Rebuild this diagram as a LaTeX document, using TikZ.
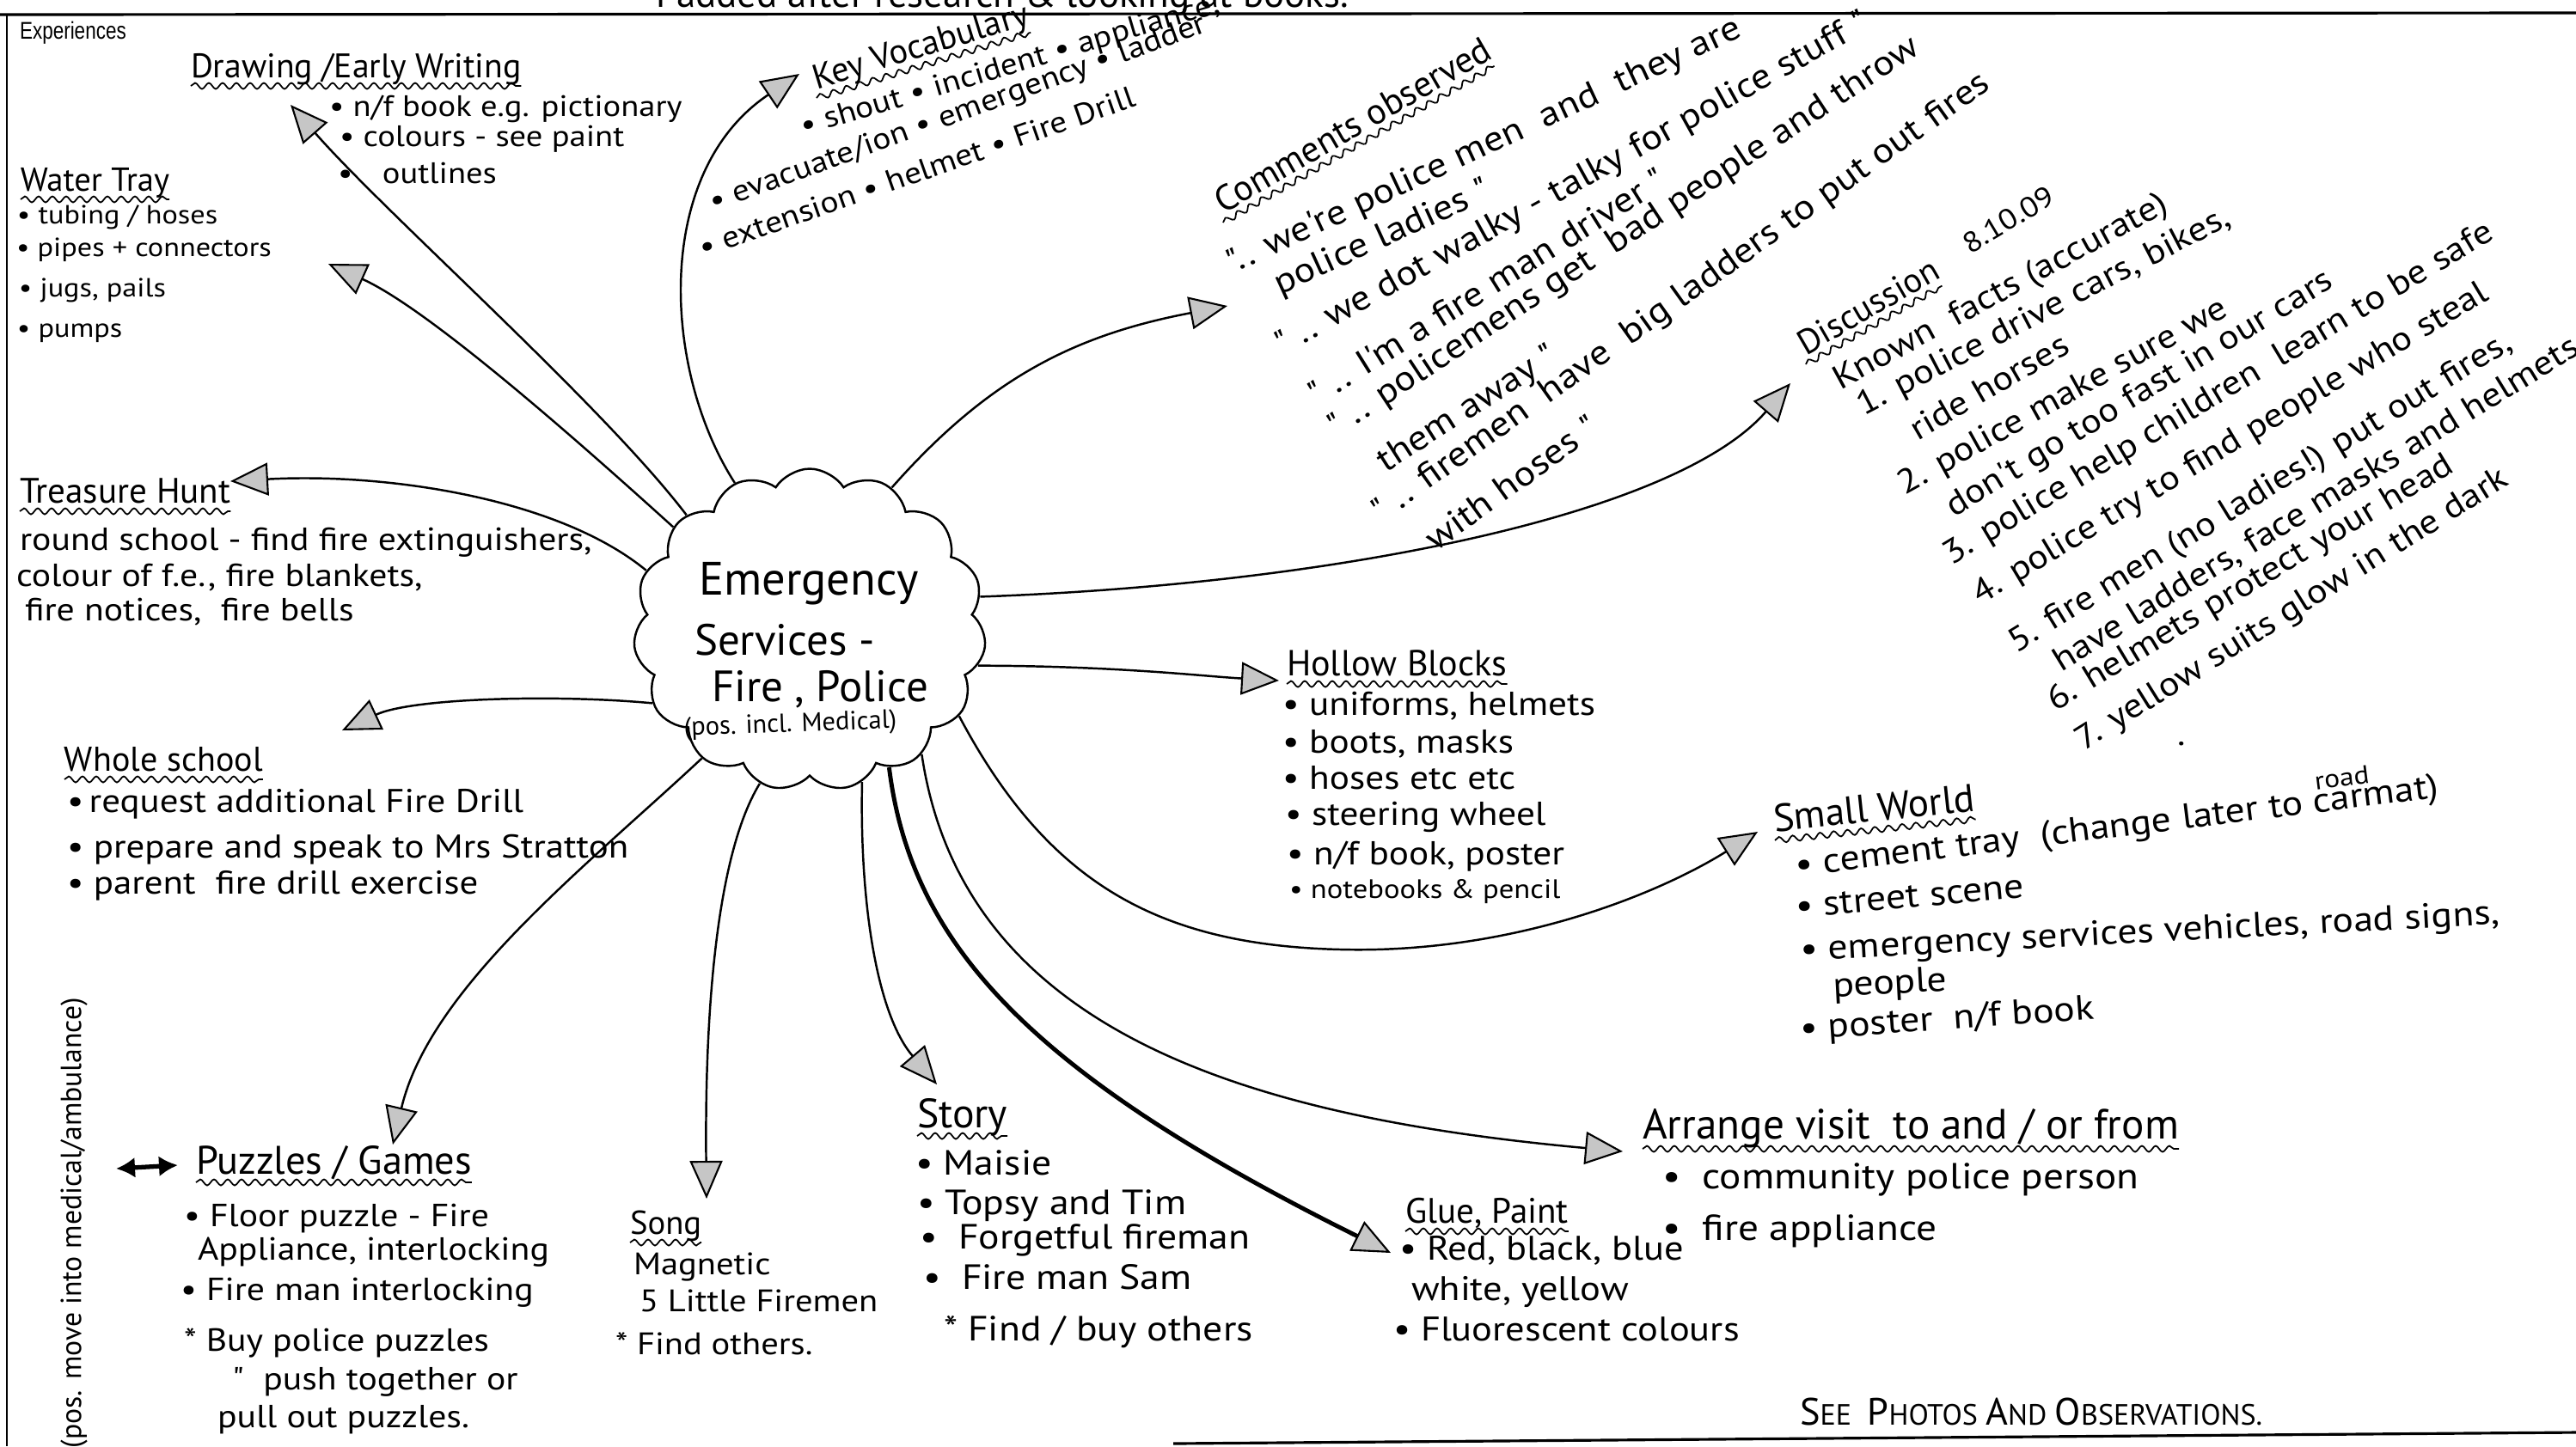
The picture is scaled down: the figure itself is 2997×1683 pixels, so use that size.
\documentclass[tikz,border=0pt]{standalone}
\usepackage{fontspec}
\setmainfont{PT Sans}
\newfontfamily\wide{PT Sans}[FakeStretch=1.12]
\newfontfamily\expfont{Liberation Sans}[FakeStretch=0.8]
\usetikzlibrary{arrows.meta,shapes.symbols,decorations.pathmorphing}
\newcommand\fs[1]{\fontsize{#1}{#1}\selectfont}
\newcommand\SCw[2]{{\fs{12.6}#1}{\fs{9.7}#2}}
\begin{document}
\begin{tikzpicture}[x=0.1mm,y=-0.1mm,
  t/.style={anchor=base west, inner sep=0pt, outer sep=0pt},
  wav/.style={decorate, decoration={snake, amplitude=0.35mm, segment length=1.6mm}, line width=0.5pt},
  conn/.style={line width=0.7pt, -{Triangle[length=4.4mm,width=3.8mm,fill=gray!45,line width=0.6pt]}},
  ul/.style={wav},
]
\useasboundingbox (0,0) rectangle (2997,1683);
\fill[white] (0,0) rectangle (2997,1683);
% page frame
\draw[line width=0.9pt] (0,17) -- (2997,15);
\draw[line width=0.5pt] (8,17) -- (8,1683);
\draw[line width=0.9pt] (1365,1680) -- (2997,1667);
\node[t, font=\fs{12.8}] (top) at (762,8) {I added after research \& looking at books.};
\node[t, font=\expfont\fontsize{8}{9}\selectfont] (exp) at (23,45) {Experiences};

% centre cloud
\node[cloud, draw, line width=0.7pt, cloud puffs=15, cloud puff arc=115, cloud ignores aspect,
      minimum width=4.1cm, minimum height=3.75cm, inner sep=0pt] (c) at (942,733) {};
\node[t, font=\fs{15.5}] (e1) at (813,692) {Emergency};
\node[t, font=\fs{14.5}] (e2) at (808,762) {Services -};
\node[t, font=\fs{14.5}] (e3) at (828,816) {Fire , Police};
\node[t, font=\fs{8.7}, rotate=2] (e4) at (796,856) {(pos. incl. Medical)};

% Drawing / Early Writing
\node[t, font=\fs{11.3}] (dwH) at (222,90) {Drawing /Early Writing};
\draw[ul] ([yshift=-1mm]dwH.base west) -- ([yshift=-1mm]dwH.base east);
\begin{scope}[font=\wide\fs{9.8}]
\node[t] (dw1) at (383,135) {\textbullet\ n/f book e.g. pictionary};
\node[t] (dw2) at (395,170) {\textbullet\ colours - see paint};
\node[t] (dw3) at (393,213) {\textbullet\quad outlines};
\end{scope}

% Water Tray
\node[t, font=\fs{11}] (wtH) at (24,222) {Water Tray};
\draw[ul] ([yshift=-1mm]wtH.base west) -- ([yshift=-1mm]wtH.base east);
\begin{scope}[font=\wide\fs{8.7}]
\node[t] (wt1) at (20,260) {\textbullet\ tubing / hoses};
\node[t] (wt2) at (19,298) {\textbullet\ pipes + connectors};
\node[t] (wt3) at (22,345) {\textbullet\ jugs, pails};
\node[t] (wt4) at (20,392) {\textbullet\ pumps};
\end{scope}

% Key Vocabulary
\node[t, font=\fs{11.5}, rotate=17] (kvH) at (950,104) {Key Vocabulary};
\draw[ul] ([yshift=-1mm]kvH.base west) -- ([yshift=-1mm]kvH.base east);
\begin{scope}[font=\wide\fs{10}]
\node[t, rotate=16.5] (kv1) at (935,158) {\textbullet\ shout \textbullet\ incident \textbullet\ appliance,};
\node[t, rotate=20] (kv2) at (830,246) {\textbullet\ evacuate/ion \textbullet\ emergency \textbullet\ ladder};
\node[t, rotate=19.3] (kv3) at (818,300) {\textbullet\ extension \textbullet\ helmet \textbullet\ Fire Drill};
\end{scope}

% Comments observed
\node[t, font=\fs{12}, rotate=30] (coH) at (1423,249) {Comments observed};
\draw[ul] ([yshift=-1mm]coH.base west) -- ([yshift=-1mm]coH.base east);
\begin{scope}[font=\wide\fs{11.6}]
\node[t, rotate=25] (co1) at (1434,319) {".. we're police men \ and \ they are};
\node[t, rotate=24.5] (co2) at (1489,343) {police ladies "};
\node[t, rotate=29] (co3) at (1492,414) {" .. we dot walky - talky for police stuff "};
\node[t, rotate=32] (co4) at (1532,473) {" .. I'm a fire man driver "};
\node[t, rotate=33.4] (co5) at (1555,510) {" .. policemens get \ bad people and throw};
\node[t, rotate=32.5] (co6) at (1612,550) {them away "};
\node[t, rotate=35.5] (co7) at (1607,609) {" .. firemen \ have \ big ladders to put out fires};
\node[t, rotate=35.7] (co8) at (1670,642) {with hoses "};
\end{scope}

% Discussion
\node[t, font=\fs{11.5}, rotate=30] (diH) at (2101,414) {Discussion};
\draw[ul] ([yshift=-1mm]diH.base west) -- ([yshift=-1mm]diH.base east);
\node[t, font=\wide\fs{9.5}, rotate=31] (diD) at (2292,296) {8.10.09};
\begin{scope}[font=\wide\fs{11.2}]
\node[t, rotate=28.6] (di1) at (2141,454) {Known \ facts (accurate)};
\node[t, rotate=27.5] (di2) at (2168,484) {1. police drive cars, bikes,};
\node[t, rotate=30] (di3) at (2231,513) {ride horses};
\node[t, rotate=29] (di4) at (2216,576) {2. police make sure we};
\node[t, rotate=31.2] (di5) at (2273,602) {don't go too fast in our cars};
\node[t, rotate=31] (di6) at (2270,658) {3. police help children \ learn to be safe};
\node[t, rotate=31] (di7) at (2304,704) {4. police try to find people who steal};
\node[t, rotate=31.5] (di8) at (2346,760) {5. fire men (no ladies!) put out fires,};
\node[t, rotate=31.5] (di9) at (2398,782) {have ladders, face masks and helmets};
\node[t, rotate=31] (di10) at (2391,828) {6. helmets protect your head};
\node[t, rotate=32] (di11) at (2424,874) {7. yellow suits glow in the dark};
\node[t] (di12) at (2533,867) {.};
\end{scope}

% Treasure Hunt
\node[t, font=\fs{11.7}] (thH) at (23,585) {Treasure Hunt};
\draw[ul] ([yshift=-1mm]thH.base west) -- ([yshift=-1mm]thH.base east);
\begin{scope}[font=\wide\fs{10.6}]
\node[t] (th1) at (23,640) {round school - find fire extinguishers,};
\node[t] (th2) at (19,682) {colour of f.e., fire blankets,};
\node[t] (th3) at (29,722) {fire notices, \ fire bells};
\end{scope}

% Whole school
\node[t, font=\fs{11.4}] (wsH) at (75,897) {Whole school};
\draw[ul] ([yshift=-1mm]wsH.base west) -- ([yshift=-1mm]wsH.base east);
\begin{scope}[font=\wide\fs{10.9}]
\node[t] (ws1) at (78,945) {\textbullet\,request additional Fire Drill};
\node[t] (ws2) at (78,998) {\textbullet\ prepare and speak to Mrs Stratton};
\node[t] (ws3) at (78,1040) {\textbullet\ parent \ fire drill exercise};
\end{scope}

% Puzzles / Games
\coordinate (pa1) at (135,1360);
\coordinate (pa2) at (207,1356);
\draw[{Latex[length=2.2mm,width=2.4mm]}-{Latex[length=2.2mm,width=2.4mm]}, line width=1.5pt] (pa1) -- (pa2);
\node[t, font=\fs{13.2}] (pzH) at (228,1366) {Puzzles / Games};
\draw[ul] ([yshift=-1mm]pzH.base west) -- ([yshift=-1mm]pzH.base east);
\begin{scope}[font=\wide\fs{10.6}]
\node[t] (pz1) at (214,1427) {\textbullet\ Floor puzzle - Fire};
\node[t] (pz2) at (230,1466) {Appliance, interlocking};
\node[t] (pz3) at (210,1513) {\textbullet\ Fire man interlocking};
\node[t] (pz4) at (214,1572) {* Buy police puzzles};
\node[t] (pz5) at (270,1617) {"\ \ push together or};
\node[t] (pz6) at (253,1661) {pull out puzzles.};
\end{scope}

% Song
\node[t, font=\fs{11}] (soH) at (733,1436) {Song};
\draw[ul] ([yshift=-1mm]soH.base west) -- ([yshift=-1mm]soH.base east);
\begin{scope}[font=\wide\fs{10.3}]
\node[t] (so1) at (737,1483) {Magnetic};
\node[t] (so2) at (744,1526) {5 Little Firemen};
\node[t] (so3) at (716,1576) {* Find others.};
\end{scope}

% Story
\node[t, font=\fs{13.6}] (stH) at (1067,1312) {Story};
\draw[ul] ([yshift=-1mm]stH.base west) -- ([yshift=-1mm]stH.base east);
\begin{scope}[font=\wide\fs{11.6}]
\node[t] (st1) at (1065,1367) {\textbullet\ Maisie};
\node[t] (st2) at (1067,1413) {\textbullet\ Topsy and Tim};
\node[t] (st3) at (1070,1453) {\textbullet\ \ Forgetful fireman};
\node[t] (st4) at (1074,1500) {\textbullet\ \ Fire man Sam};
\node[t] (st5) at (1098,1560) {* Find / buy others};
\end{scope}

% Glue, Paint
\node[t, font=\fs{11.7}] (glH) at (1635,1423) {Glue, Paint};
\draw[ul] ([yshift=-1mm]glH.base west) -- ([yshift=-1mm]glH.base east);
\begin{scope}[font=\wide\fs{11.3}]
\node[t] (gl1) at (1628,1466) {\textbullet\ Red, black, blue};
\node[t] (gl2) at (1642,1513) {white, yellow};
\node[t] (gl3) at (1621,1560) {\textbullet\ Fluorescent colours};
\end{scope}

% Arrange visit
\node[t, font=\fs{14}] (arH) at (1911,1325) {Arrange visit \ to and / or from};
\draw[ul] ([yshift=-1.2mm]arH.base west) -- ([yshift=-1.2mm]arH.base east);
\begin{scope}[font=\wide\fs{12}]
\node[t] (ar1) at (1934,1383) {\textbullet\ \ community police person};
\node[t] (ar2) at (1934,1443) {\textbullet\ \ fire appliance};
\end{scope}

% Hollow Blocks
\node[t, font=\fs{12}] (hbH) at (1497,786) {Hollow Blocks};
\draw[ul] ([yshift=-1mm]hbH.base west) -- ([yshift=-1mm]hbH.base east);
\begin{scope}[font=\wide\fs{11}]
\node[t] (hb1) at (1492,832) {\textbullet\ uniforms, helmets};
\node[t] (hb2) at (1492,876) {\textbullet\ boots, masks};
\node[t] (hb3) at (1492,918) {\textbullet\ hoses etc etc};
\node[t] (hb4) at (1495,960) {\textbullet\ steering wheel};
\node[t] (hb5) at (1497,1006) {\textbullet\ n/f book, poster};
\node[t, font=\wide\fs{8.8}] (hb6) at (1500,1045) {\textbullet\ notebooks \& pencil};
\end{scope}

% Small World
\node[t, font=\fs{12.9}, rotate=6] (swH) at (2065,968) {Small World};
\draw[ul] ([yshift=-1mm]swH.base west) -- ([yshift=-1mm]swH.base east);
\begin{scope}[font=\wide\fs{11.6}]
\node[t, rotate=7] (sw1) at (2090,1020) {\textbullet\ cement tray \ (change later to \rlap{\raisebox{1.3ex}{\fs{8.5}\,road}}carmat)};
\node[t, rotate=5] (sw2) at (2090,1068) {\textbullet\ street scene};
\node[t, rotate=3] (sw3) at (2095,1118) {\textbullet\ emergency services vehicles, road signs,};
\node[t, rotate=3] (sw4) at (2133,1160) {people};
\node[t, rotate=4] (sw5) at (2095,1210) {\textbullet\ poster \ n/f book};
\end{scope}

% footer and side note
\node[t] (see) at (2094,1658) {\SCw{S}{EE}\ \ \SCw{P}{HOTOS}\ \SCw{A}{ND}\ \SCw{O}{BSERVATIONS}.};
\node[font=\fs{9.6}, rotate=90, inner sep=0pt] (vert) at (86,1423) {(pos. move into medical/ambulance)};

% arrow tips
\coordinate (tDw) at (338,122);
\coordinate (tWt) at (382,307);
\coordinate (tKv) at (930,86);
\coordinate (tCo) at (1428,356);
\coordinate (tDi) at (2083,446);
\coordinate (tTh) at (268,560);
\coordinate (tWs) at (398,850);
\coordinate (tPz) at (457,1332);
\coordinate (tSo) at (822,1395);
\coordinate (tSt) at (1090,1262);
\coordinate (tGl) at (1618,1458);
\coordinate (tAr) at (1888,1340);
\coordinate (tHb) at (1488,792);
\coordinate (tSw) at (2045,968);
\coordinate (swMid) at (1560,1105);

% connectors
\draw[conn] (c.137) .. controls (700,470) and (450,250) .. (tDw);
\draw[conn] (c.143) .. controls (680,520) and (500,360) .. (tWt);
\draw[conn] (c.117) .. controls (770,430) and (760,200) .. (tKv);
\draw[conn] (c.60) .. controls (1150,440) and (1250,390) .. (tCo);
\draw[conn] (c.11) .. controls (1550,680) and (1950,600) .. (tDi);
\draw[conn] (c.160) .. controls (650,580) and (450,550) .. (tTh);
\draw[conn] (c.205) .. controls (650,808) and (480,812) .. (tWs);
\draw[conn] (c.230) .. controls (680,1010) and (500,1150) .. (tPz);
\draw[conn] (c.252) .. controls (830,1000) and (820,1200) .. (tSo);
\draw[conn] (c.289) .. controls (1000,1050) and (1020,1180) .. (tSt);
\draw[conn, line width=1.4pt] (c.300) .. controls (1060,1100) and (1200,1250) .. (tGl);
\draw[conn] (c.312) .. controls (1120,1200) and (1450,1300) .. (tAr);
\draw[conn] (c.-12.5) .. controls (1300,775) and (1400,787) .. (tHb);
\draw[line width=0.7pt] (c.330) .. controls (1220,1030) and (1350,1100) .. (swMid);
\draw[conn] (swMid) .. controls (1760,1110) and (1930,1040) .. (tSw);
\end{tikzpicture}
\end{document}
